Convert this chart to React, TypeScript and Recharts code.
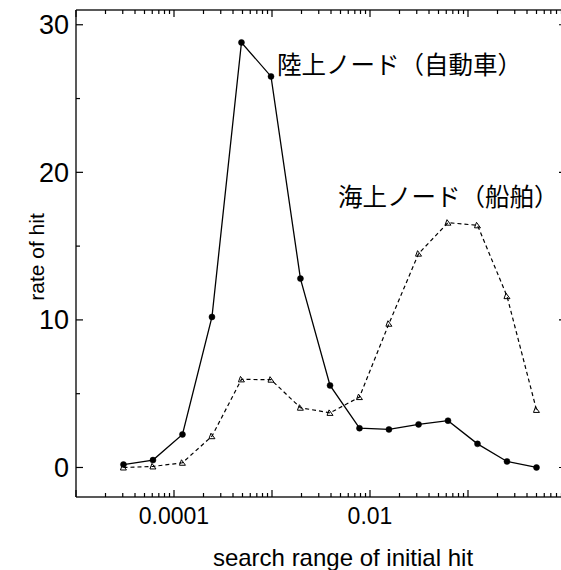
import React from 'react';
import { LineChart, Line, XAxis, YAxis } from 'recharts';

// search range (x) values: one point per doubling
const searchRange = [
  0.0000305, 0.000061, 0.000122, 0.000244, 0.000488, 0.000977, 0.00195, 0.00391,
  0.00781, 0.0156, 0.0313, 0.0625, 0.125, 0.25, 0.5,
];
// 陸上ノード（自動車）
const landHit = [0.2, 0.5, 2.24, 10.2, 28.8, 26.5, 12.8, 5.56, 2.66, 2.58, 2.92, 3.17, 1.6, 0.41, 0.0];
// 海上ノード（船舶）
const seaHit = [0.0, 0.07, 0.32, 2.12, 5.97, 5.95, 4.05, 3.7, 4.77, 9.74, 14.49, 16.59, 16.41, 11.61, 3.9];

const xDecades = [0.00001, 0.0001, 0.001, 0.01, 0.1, 1];
const xLabelValues = [0.0001, 0.01];
const xLabelTexts = ['0.0001', '0.01'];
const yTicks = [0, 5, 10, 15, 20, 25, 30];
const yLabelValues = [0, 10, 20, 30];

const xTicks = [
  ...xDecades,
  ...xDecades.slice(0, -1).flatMap((d) => [2, 3, 4, 5, 6, 7, 8, 9].map((k) => d * k)),
].sort((a, b) => a - b);

const data = searchRange.map((x, i) => ({ x, land: landHit[i], sea: seaHit[i] }));

const isDecade = (v: number) => xDecades.some((d) => Math.abs(d - v) / d < 1e-6);

// inward ticks, long on decades; labels only on the bottom axis
const XTick = (props: any) => {
  const { x, y, payload, side } = props;
  const v = payload.value;
  const len = isDecade(v) ? 7 : 4;
  const dir = side === 'top' ? 1 : -1;
  const idx = xLabelValues.findIndex((d) => Math.abs(d - v) / d < 1e-6);
  return (
    <g>
      <line x1={x} y1={y} x2={x} y2={y + dir * len} stroke="#000" strokeWidth={1.2} />
      {side === 'bottom' && idx >= 0 && (
        <text x={x} y={y + 27} textAnchor="middle" fontSize={23} fill="#000">
          {xLabelTexts[idx]}
        </text>
      )}
    </g>
  );
};

const YTick = (props: any) => {
  const { x, y, payload, side } = props;
  const v = payload.value;
  const major = yLabelValues.includes(v);
  const len = major ? 7 : 4;
  const dir = side === 'left' ? 1 : -1;
  return (
    <g>
      <line x1={x} y1={y} x2={x + dir * len} y2={y} stroke="#000" strokeWidth={1.2} />
      {side === 'left' && major && (
        <text x={x - 7} y={y + 9.5} textAnchor="end" fontSize={27} fill="#000">
          {v}
        </text>
      )}
    </g>
  );
};

const TriangleDot = (props: any) => {
  const { cx, cy } = props;
  if (cx == null || cy == null) return null;
  return (
    <path
      d={`M${cx - 3},${cy + 2.5} L${cx + 3},${cy + 2.5} L${cx - 1},${cy - 3} Z`}
      fill="none"
      stroke="#000"
      strokeWidth={1}
    />
  );
};

const YTitle = () => (
  <text x={44} y={257} transform="rotate(-90, 44, 257)" textAnchor="middle" fontSize={21} fill="#000">
    rate of hit
  </text>
);

const axisStroke = { stroke: '#222', strokeWidth: 1.5 };

const noteStyle: React.CSSProperties = {
  position: 'absolute',
  fontSize: 24.5,
  lineHeight: 1,
  fontFamily: '"Noto Sans CJK JP", sans-serif',
  whiteSpace: 'nowrap',
  color: '#000',
};

export default function App() {
  return (
    <div
      style={{
        position: 'fixed',
        left: 0,
        top: 0,
        width: 561,
        height: 570,
        overflow: 'hidden',
        background: '#fff',
        fontFamily: '"Liberation Sans", Arial, sans-serif',
      }}
    >
      <LineChart width={570} height={570} data={data} margin={{ top: 0, right: 0, bottom: 0, left: 0 }}>
        <XAxis
          xAxisId="b"
          dataKey="x"
          type="number"
          scale="log"
          domain={[0.00001, 1]}
          allowDataOverflow
          ticks={xTicks}
          interval={0}
          tickSize={0}
          tickMargin={0}
          tick={<XTick side="bottom" />}
          axisLine={axisStroke}
          height={73}
          label={{
            value: 'search range of initial hit',
            position: 'insideBottom',
            offset: 4,
            dx: 22,
            fontSize: 24,
            fill: '#000',
          }}
        />
        <XAxis
          xAxisId="t"
          orientation="top"
          dataKey="x"
          type="number"
          scale="log"
          domain={[0.00001, 1]}
          allowDataOverflow
          ticks={xTicks}
          interval={0}
          tickSize={0}
          tickMargin={0}
          tick={<XTick side="top" />}
          axisLine={axisStroke}
          height={10}
        />
        <YAxis
          yAxisId="l"
          type="number"
          domain={[-2, 31]}
          allowDataOverflow
          ticks={yTicks}
          interval={0}
          tickSize={0}
          tickMargin={0}
          tick={<YTick side="left" />}
          axisLine={axisStroke}
          width={76}
          label={{ content: <YTitle /> }}
        />
        <YAxis
          yAxisId="r"
          orientation="right"
          type="number"
          domain={[-2, 31]}
          allowDataOverflow
          ticks={yTicks}
          interval={0}
          tickSize={0}
          tickMargin={0}
          tick={<YTick side="right" />}
          axisLine={axisStroke}
          width={4}
        />
        <Line
          xAxisId="b"
          yAxisId="l"
          dataKey="land"
          stroke="#000"
          strokeWidth={1.3}
          dot={{ r: 3, fill: '#000', stroke: '#000', strokeWidth: 0.5 }}
          isAnimationActive={false}
        />
        <Line
          xAxisId="b"
          yAxisId="l"
          dataKey="sea"
          stroke="#000"
          strokeWidth={1.2}
          strokeDasharray="4 3"
          dot={<TriangleDot />}
          isAnimationActive={false}
        />
      </LineChart>
      <div style={{ ...noteStyle, left: 277, top: 52 }}>陸上ノード（自動車）</div>
      <div style={{ ...noteStyle, left: 338, top: 184 }}>海上ノード（船舶）</div>
    </div>
  );
}
